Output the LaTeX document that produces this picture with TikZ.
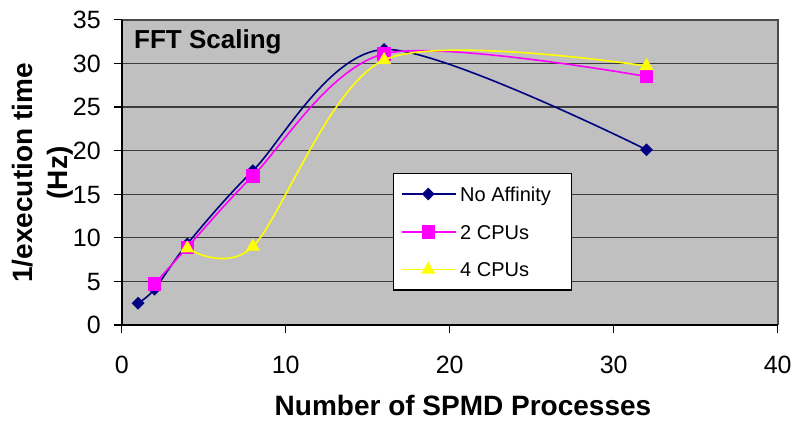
\documentclass[tikz,border=0pt]{standalone}
\usepackage{fontspec}
\setmainfont{Liberation Sans}
\usetikzlibrary{shapes.geometric}
\definecolor{plotbg}{HTML}{C0C0C0}
\definecolor{navyc}{HTML}{000080}
\definecolor{magc}{HTML}{FF00FF}
\definecolor{yelc}{HTML}{FFFF00}
\definecolor{gridc}{HTML}{3C3C3C}
\definecolor{borderc}{HTML}{4A4A4A}
\begin{document}
\begin{tikzpicture}[x=1pt,y=-1pt,
  gridline/.style={draw=gridc,line width=1.3pt},
  borderline/.style={draw=borderc,line width=1.6pt},
  axisline/.style={draw=black,line width=1.6pt},
  tickline/.style={draw=black,line width=1.2pt},
  ticklab/.style={font=\fontsize{25}{25}\selectfont,inner sep=0pt},
  axtitle/.style={font=\fontsize{28}{35}\selectfont\bfseries,inner sep=0pt},
  legtext/.style={font=\fontsize{20}{20}\selectfont,inner sep=0pt,anchor=base west},
  dmark/.style={diamond,aspect=1,fill=navyc,inner sep=0pt,minimum width=13pt,minimum height=13pt},
  smark/.style={rectangle,fill=magc,inner sep=0pt,minimum size=13.5pt},
  tmark/.style={regular polygon,regular polygon sides=3,fill=yelc,inner sep=0pt,minimum size=16pt},
  navyline/.style={draw=navyc,line width=1.6pt},
  magline/.style={draw=magc,line width=1.6pt},
  yelline/.style={draw=yelc,line width=1.6pt},
  curve/.style={smooth,tension=0.5}]
\useasboundingbox (0,0) rectangle (794,421);
% plot area
\fill[plotbg] (121.7,19.8) rectangle (777.7,325);
\foreach \v in {5,10,...,30}{
  \draw[gridline] (121.7,{325-8.72*\v}) -- (777.7,{325-8.72*\v});
}
\draw[borderline] (121.7,19.8) -- (777.7,19.8) -- (777.7,325);
\draw[axisline] (121.7,19.8) -- (121.7,325) -- (777.7,325);
% y ticks and labels
\foreach \v in {0,5,...,35}{
  \draw[tickline] (113.5,{325-8.72*\v}) -- (121.7,{325-8.72*\v});
  \node[ticklab,anchor=base east] (yl\v) at (101,{325-8.72*\v+8.95}) {\v};
}
% x ticks and labels
\foreach \v in {0,10,...,40}{
  \draw[tickline] ({121.7+16.4*\v},325) -- ({121.7+16.4*\v},333);
  \node[ticklab,anchor=base] (xl\v) at ({121.7+16.4*\v},373.9) {\v};
}
% titles
\node[font=\fontsize{26}{26}\selectfont\bfseries,inner sep=0pt,anchor=base west] (title) at (134,48.5) {FFT Scaling};
\node[axtitle,anchor=base] (xtitle) at (463,415.5) {Number of SPMD Processes};
\node[axtitle,rotate=90,align=center] (ytitle) at (43,173) {1/execution time\\(Hz)};
% data
\begin{scope}[shift={(121.7,325)},x=16.4pt,y=8.72pt]
  \coordinate (a1) at (1,2.5);
  \coordinate (a2) at (2,4.1);
  \coordinate (a3) at (4,9.3);
  \coordinate (a4) at (8,17.7);
  \coordinate (a5) at (16,31.6);
  \coordinate (a6) at (32,20.1);
  \coordinate (b1) at (2,4.7);
  \coordinate (b2) at (4,8.9);
  \coordinate (b3) at (8,17.1);
  \coordinate (b4) at (16,31.1);
  \coordinate (b5) at (32,28.5);
  \coordinate (c1) at (4,8.8);
  \coordinate (c2) at (8,9.0);
  \coordinate (c3) at (16,30.4);
  \coordinate (c4) at (32,29.7);
\end{scope}
\draw[navyline] plot[curve] coordinates {(a1) (a2) (a3) (a4) (a5) (a6)};
\foreach \i in {1,...,6}{\node[dmark] (ma\i) at (a\i) {};}
\draw[magline] plot[curve] coordinates {(b1) (b2) (b3) (b4) (b5)};
\foreach \i in {1,...,5}{\node[smark] (mb\i) at (b\i) {};}
\draw[yelline] plot[curve] coordinates {(c1) (c2) (c3) (c4)};
\foreach \i in {1,...,4}{\node[tmark] (mc\i) at (c\i) {};}
% legend
\node[draw=black,line width=1.2pt,fill=white,minimum width=178.4pt,minimum height=116.7pt,inner sep=0pt] (legend) at (482.5,231.7) {};
\coordinate (la1) at (401.7,194);
\coordinate (la2) at (456,194);
\coordinate (lb1) at (401.7,232);
\coordinate (lb2) at (456,232);
\coordinate (lc1) at (401.7,269.5);
\coordinate (lc2) at (456,269.5);
\draw[navyline] (la1) -- (la2);
\node[dmark] (lma) at (428.3,194) {};
\draw[magline] (lb1) -- (lb2);
\node[smark] (lmb) at (428.3,232) {};
\draw[yelline] (lc1) -- (lc2);
\node[tmark] (lmc) at (428.3,269.5) {};
\node[legtext] (lta) at (460,201.2) {No Affinity};
\node[legtext] (ltb) at (460,239.2) {2 CPUs};
\node[legtext] (ltc) at (460,276.7) {4 CPUs};
\end{tikzpicture}
\end{document}
